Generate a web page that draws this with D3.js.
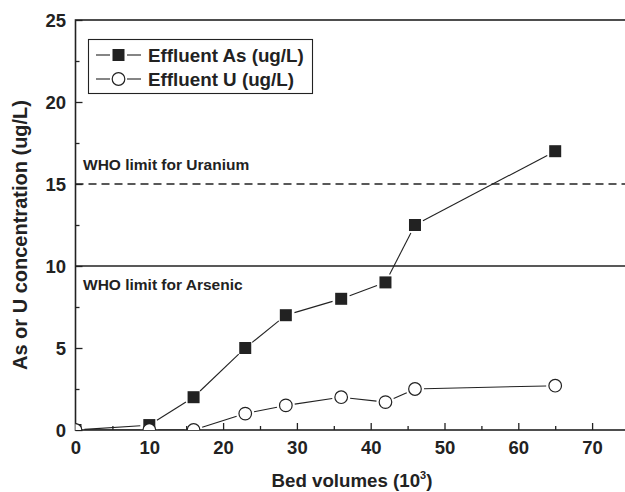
<!DOCTYPE html>
<html>
<head>
<meta charset="utf-8">
<script src="https://cdn.jsdelivr.net/npm/d3@7"></script>
<style>
  body { margin: 0; background: #fff; }
  text { font-family: "Liberation Sans", Arial, sans-serif; font-weight: bold; fill: #222; }
</style>
</head>
<body>
<div id="chart"></div>
<script>
const bedVolumes = [0, 10, 16, 23, 28.5, 36, 42, 46, 65]
const effluentAs = [0, 0.3, 2, 5, 7, 8, 9, 12.5, 17]
const effluentU = [0, 0, 0, 1, 1.5, 2, 1.7, 2.5, 2.7]
const xTicks = [0, 10, 20, 30, 40, 50, 60, 70]
const yTicks = [0, 5, 10, 15, 20, 25]
const limits = [
  {name: 'WHO limit for Uranium', value: 15, dashed: true},
  {name: 'WHO limit for Arsenic', value: 10, dashed: false},
]

const width = 625, height = 492
const chart = {left: 75.5, top: 20, bottom: 430, right: 629}
const ink = '#222'

const svg = d3.select('#chart').append('svg')
  .attr('width', width)
  .attr('height', height)

const x = d3.scaleLinear().domain([0, 75]).range([chart.left, chart.right])
const y = d3.scaleLinear().domain([0, 25]).range([chart.bottom, chart.top])

svg.append('clipPath').attr('id', 'plot')
  .append('rect')
    .attr('x', chart.left).attr('y', chart.top)
    .attr('width', chart.right - chart.left).attr('height', chart.bottom - chart.top)

// axes, ticks pointing inward
const xAxis = svg.append('g')
  .attr('transform', `translate(0,${chart.bottom})`)
  .call(d3.axisBottom(x).tickValues(xTicks).tickSize(-7))
svg.append('g')
  .attr('transform', `translate(0,${chart.bottom})`)
  .call(d3.axisBottom(x).tickValues(d3.range(5, 75, 10)).tickSize(-4).tickFormat(''))
const yAxis = svg.append('g')
  .attr('transform', `translate(${chart.left},0)`)
  .call(d3.axisLeft(y).tickValues(yTicks).tickSize(-7).tickPadding(9.5))
svg.append('g')
  .attr('transform', `translate(${chart.left},0)`)
  .call(d3.axisLeft(y).tickValues(d3.range(2.5, 25, 5)).tickSize(-4).tickFormat(''))

svg.selectAll('.domain').remove()
svg.selectAll('.tick line').attr('stroke', ink).attr('stroke-width', 1.3)
svg.selectAll('.tick text').style('font-size', '18.5px').attr('fill', ink)
xAxis.selectAll('.tick text').attr('y', 23.5).attr('dy', 0)
yAxis.selectAll('.tick text').attr('dy', '0.36em')

// frame
svg.append('rect')
  .attr('x', chart.left).attr('y', chart.top)
  .attr('width', chart.right - chart.left).attr('height', chart.bottom - chart.top)
  .attr('fill', 'none').attr('stroke', ink).attr('stroke-width', 1.6)

// WHO limits
svg.selectAll('.limit')
  .data(limits)
  .enter()
    .append('line')
    .attr('x1', chart.left).attr('x2', chart.right)
    .attr('y1', (d) => y(d.value)).attr('y2', (d) => y(d.value))
    .attr('stroke', ink).attr('stroke-width', 1.3)
    .attr('stroke-dasharray', (d) => d.dashed ? '8,5' : null)

svg.selectAll('.limit-label')
  .data(limits)
  .enter()
    .append('text')
    .attr('x', 83)
    .attr('y', (d) => d.dashed ? y(d.value) - 14.5 : y(d.value) + 23.5)
    .style('font-size', '15.5px')
    .text((d) => d.name)

// series
const series = [
  {name: 'Effluent As (ug/L)', values: effluentAs, marker: 'square'},
  {name: 'Effluent U (ug/L)', values: effluentU, marker: 'circle'},
]

const drawMarker = (g, marker, cx, cy) => {
  if (marker === 'square') {
    g.append('rect')
      .attr('x', cx - 6).attr('y', cy - 6)
      .attr('width', 12).attr('height', 12)
      .attr('fill', ink)
  } else {
    g.append('circle')
      .attr('cx', cx).attr('cy', cy).attr('r', 6.3)
      .attr('fill', '#fff').attr('stroke', ink).attr('stroke-width', 1.2)
  }
}

const gap = 9
const plot = svg.append('g').attr('clip-path', 'url(#plot)')
series.forEach((s) => {
  const pts = bedVolumes.map((b, i) => [x(b), y(s.values[i])])
  const g = plot.append('g')
  d3.pairs(pts).forEach(([a, b]) => {
    const dx = b[0] - a[0], dy = b[1] - a[1]
    const len = Math.hypot(dx, dy)
    if (len <= gap * 2) return
    const ux = dx / len, uy = dy / len
    g.append('line')
      .attr('x1', a[0] + ux * gap).attr('y1', a[1] + uy * gap)
      .attr('x2', b[0] - ux * gap).attr('y2', b[1] - uy * gap)
      .attr('stroke', ink).attr('stroke-width', 1.1)
  })
  pts.forEach((p) => drawMarker(g, s.marker, p[0], p[1]))
})

// legend
const legend = svg.append('g')
legend.append('rect')
  .attr('x', 88.5).attr('y', 39.5).attr('width', 224).attr('height', 54)
  .attr('fill', '#fff').attr('stroke', ink).attr('stroke-width', 1.1)
series.forEach((s, i) => {
  const ly = 55 + i * 24
  legend.append('line').attr('x1', 96).attr('x2', 110).attr('y1', ly).attr('y2', ly)
    .attr('stroke', ink).attr('stroke-width', 1.1)
  legend.append('line').attr('x1', 127).attr('x2', 141).attr('y1', ly).attr('y2', ly)
    .attr('stroke', ink).attr('stroke-width', 1.1)
  drawMarker(legend, s.marker, 118.5, ly)
  legend.append('text')
    .attr('x', 148).attr('y', ly + 7)
    .style('font-size', '18.8px')
    .text(s.name)
})

// axis titles
const xTitle = svg.append('text')
  .attr('x', 352).attr('y', 487)
  .attr('text-anchor', 'middle')
  .style('font-size', '18.7px')
xTitle.append('tspan').text('Bed volumes (10')
xTitle.append('tspan').attr('dy', -8).style('font-size', '11px').text('3')
xTitle.append('tspan').attr('dy', 8).text(')')

svg.append('text')
  .attr('transform', `translate(26.5,235) rotate(-90)`)
  .attr('text-anchor', 'middle')
  .style('font-size', '20px')
  .text('As or U concentration (ug/L)')
</script>
</body>
</html>
